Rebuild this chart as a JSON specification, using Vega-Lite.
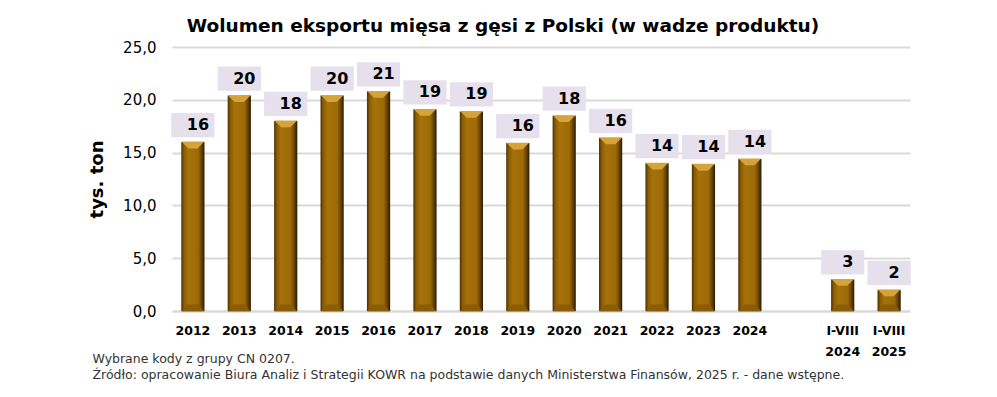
{
  "$schema": "https://vega.github.io/schema/vega-lite/v6.json",
  "width": 738,
  "height": 264,
  "autosize": {"type": "none"},
  "padding": {"left": 172, "top": 47, "right": 87, "bottom": 86},
  "background": "white",
  "config": {"view": {"stroke": null}},
  "title": {
    "text": "Wolumen eksportu mięsa z gęsi z Polski (w wadze produktu)",
    "font": "DejaVu Sans",
    "fontSize": 18.5,
    "fontWeight": "bold",
    "color": "#000000",
    "anchor": "middle",
    "dx": -38,
    "offset": 5
  },
  "data": {
    "values": [
      {"cat": "2012", "value": 16.0, "label": "16"},
      {"cat": "2013", "value": 20.4, "label": "20"},
      {"cat": "2014", "value": 18.0, "label": "18"},
      {"cat": "2015", "value": 20.4, "label": "20"},
      {"cat": "2016", "value": 20.8, "label": "21"},
      {"cat": "2017", "value": 19.1, "label": "19"},
      {"cat": "2018", "value": 18.9, "label": "19"},
      {"cat": "2019", "value": 15.9, "label": "16"},
      {"cat": "2020", "value": 18.5, "label": "18"},
      {"cat": "2021", "value": 16.4, "label": "16"},
      {"cat": "2022", "value": 14.0, "label": "14"},
      {"cat": "2023", "value": 13.9, "label": "14"},
      {"cat": "2024", "value": 14.4, "label": "14"},
      {"cat": "gap", "value": null, "label": ""},
      {"cat": "I-VIII 2024", "value": 3.0, "label": "3"},
      {"cat": "I-VIII 2025", "value": 2.0, "label": "2"}
    ]
  },
  "encoding": {
    "x": {
      "field": "cat",
      "type": "nominal",
      "sort": null,
      "scale": {
        "domain": ["2012", "2013", "2014", "2015", "2016", "2017", "2018", "2019", "2020", "2021", "2022", "2023", "2024", "gap", "I-VIII 2024", "I-VIII 2025"],
        "paddingInner": 0.5,
        "paddingOuter": 0.2
      },
      "axis": {
        "title": ["Wybrane kody z grupy  CN 0207.", "Źródło: opracowanie Biura  Analiz  i  Strategii  KOWR na podstawie danych Ministerstwa Finansów, 2025 r. - dane wstępne."],
        "titleFont": "DejaVu Sans",
        "titleFontSize": 12.5,
        "titleFontWeight": "normal",
        "titleColor": "#333333",
        "titleAnchor": "start",
        "titleAlign": "left",
        "titleBaseline": "alphabetic",
        "titleLineHeight": 16,
        "titleX": -80,
        "titleY": 51,
        "labelAngle": 0,
        "labelExpr": "datum.value == 'gap' ? '' : (indexof(datum.value, ' ') > 0 ? split(datum.value, ' ') : datum.value)",
        "labelFont": "DejaVu Sans",
        "labelFontSize": 12.5,
        "labelFontWeight": "bold",
        "labelColor": "#000000",
        "labelLineHeight": 21,
        "labelPadding": 13,
        "labelBaseline": "top",
        "ticks": false,
        "domain": true,
        "domainColor": "#d9d9d9",
        "domainWidth": 2,
        "grid": false
      }
    },
    "y": {
      "field": "value",
      "type": "quantitative",
      "scale": {"domain": [0, 25], "nice": false},
      "axis": {
        "values": [0, 5, 10, 15, 20, 25],
        "labelExpr": "replace(format(datum.value, '.1f'), '.', ',')",
        "title": "tys. ton",
        "titleFont": "DejaVu Sans",
        "titleFontSize": 18,
        "titleFontWeight": "bold",
        "titleColor": "#000000",
        "titlePadding": 16,
        "labelFont": "DejaVu Sans",
        "labelFontSize": 15,
        "labelFontWeight": "normal",
        "labelColor": "#000000",
        "labelPadding": 16,
        "ticks": false,
        "domain": false,
        "grid": true,
        "gridColor": "#d9d9d9",
        "gridWidth": 2
      }
    }
  },
  "layer": [
    {
      "mark": {
        "type": "bar",
        "fill": {
          "gradient": "linear",
          "x1": 0, "x2": 1, "y1": 0, "y2": 0,
          "stops": [
            {"offset": 0, "color": "#4a3000"},
            {"offset": 0.12, "color": "#8c5c05"},
            {"offset": 0.3, "color": "#a6720a"},
            {"offset": 0.72, "color": "#9c6a07"},
            {"offset": 0.86, "color": "#6a4604"},
            {"offset": 1, "color": "#2b1c00"}
          ]
        }
      }
    },
    {
      "mark": {
        "type": "point",
        "shape": "M-1,-0.3L1,-0.3L0.4,0.3L-0.4,0.3Z",
        "filled": true,
        "size": 520,
        "color": "#d6a23a",
        "opacity": 1,
        "yOffset": 3
      }
    },
    {
      "mark": {
        "type": "point",
        "shape": "M-1,0.3L1,0.3L0.5,-0.3L-0.5,-0.3Z",
        "filled": true,
        "size": 520,
        "color": "#8a5c06",
        "opacity": 1,
        "yOffset": -3
      },
      "encoding": {
        "y": {"datum": 0, "type": "quantitative"}
      }
    },
    {
      "mark": {
        "type": "point",
        "shape": "M-1,-0.56L1,-0.56L1,0.56L-1,0.56Z",
        "filled": true,
        "size": 1870,
        "color": "#e6e0ec",
        "opacity": 1,
        "yOffset": -17
      }
    },
    {
      "mark": {
        "type": "text",
        "font": "DejaVu Sans",
        "fontSize": 16,
        "fontWeight": "bold",
        "color": "#000000",
        "baseline": "middle",
        "dx": 5,
        "yOffset": -17
      },
      "encoding": {
        "text": {"field": "label"}
      }
    }
  ]
}
